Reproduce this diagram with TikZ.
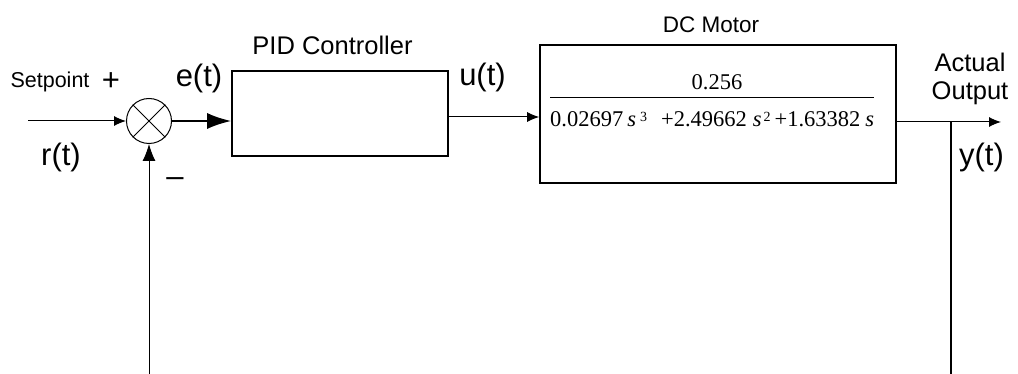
\documentclass[tikz,border=0pt]{standalone}
\usepackage{fontspec}
\setmainfont{Liberation Sans}
\newfontfamily\tffont{Liberation Serif}
\usetikzlibrary{arrows.meta}

% font sizes of the labels
\newcommand{\sigfont}{\fontsize{31pt}{33pt}\selectfont}
\newcommand{\txtfont}{\fontsize{21.5pt}{24pt}\selectfont}
% raised exponent in the transfer function
\newcommand{\pw}[1]{\raisebox{5pt}{\fontsize{14pt}{14pt}\selectfont #1}}

\begin{document}
\begin{tikzpicture}[x=1pt,y=-1pt,
  blockbox/.style={draw, line width=1.6pt, inner sep=0pt},
  sig/.style={line width=1pt},
  tip/.style={-{Latex[length=12pt,width=10pt]}},
  lbl/.style={anchor=base, inner sep=0pt, font=\sigfont},
  txt/.style={anchor=base, inner sep=0pt, font=\txtfont}]

\useasboundingbox (0,0) rectangle (1018,374);

% blocks
\node[blockbox, minimum width=216pt, minimum height=85pt] (pid) at (340,113.5) {};
\node[blockbox, minimum width=356pt, minimum height=138pt] (motor) at (718,114) {};
\node[draw, circle, sig, minimum size=45pt, inner sep=0pt] (sum) at (149,121) {};
\draw[sig] (sum.north west) -- (sum.south east) (sum.north east) -- (sum.south west);

% transfer function
\node[anchor=base, inner sep=0pt, font=\tffont\fontsize{22.5}{24}\selectfont] (num) at (717,90) {0.256};
\node[anchor=base west, inner sep=0pt, font=\tffont\fontsize{22.5}{24}\selectfont] (den) at (550,127)
  {0.02697\hspace{4pt}\textit{s}\hspace{4pt}\pw{3}\hspace{14pt}+2.49662\hspace{6pt}\textit{s}\hspace{2pt}\pw{2}\hspace{4pt}+1.63382\hspace{5pt}\textit{s}};
\coordinate (barlvl) at (0,97.5);
\draw[sig] (den.west |- barlvl) -- (den.east |- barlvl);

% labels
\node[txt] (setpt) at (50,88) {Setpoint};
\node[lbl] (plus) at (111,91) {+};
\node[lbl] (minus) at (175,187) {--};
\node[lbl] (et) at (199,86.5) {e(t)};
\node[lbl] (rt) at (61,165.5) {r(t)};
\node[txt, font=\fontsize{25.5}{28}\selectfont] (pidlbl) at (332.5,55) {PID Controller};
\node[lbl] (ut) at (482.5,85.5) {u(t)};
\node[txt, font=\fontsize{22.5}{24}\selectfont] (motlbl) at (711,32.5) {DC Motor};
\node[txt, font=\fontsize{25.5}{28}\selectfont] (actual) at (970,72) {Actual};
\node[txt, font=\fontsize{25.5}{28}\selectfont] (outlbl) at (970,100) {Output};
\node[lbl] (yt) at (981.5,166) {y(t)};

% signals
\coordinate (rin) at (28,121);
\coordinate (uout) at (448,117);
\coordinate (tap) at (951,122);
\coordinate (yend) at (1001,122);
\coordinate (bot) at (0,374);

\draw[sig, tip] (rin) -- (sum.west);
\draw[line width=2pt, -{Latex[length=24pt,width=16pt]}] (sum.east) -- (sum.east -| pid.west);
\draw[sig, tip] (uout) -- (uout -| motor.west);
\draw[sig] (tap -| motor.east) -- (tap);
\draw[sig, tip] (tap) -- (yend);
\draw[line width=2pt] (tap) -- (tap |- bot);
\draw[sig, -{Latex[length=17pt,width=13pt]}] (sum.south |- bot) -- (sum.south);

\end{tikzpicture}
\end{document}
